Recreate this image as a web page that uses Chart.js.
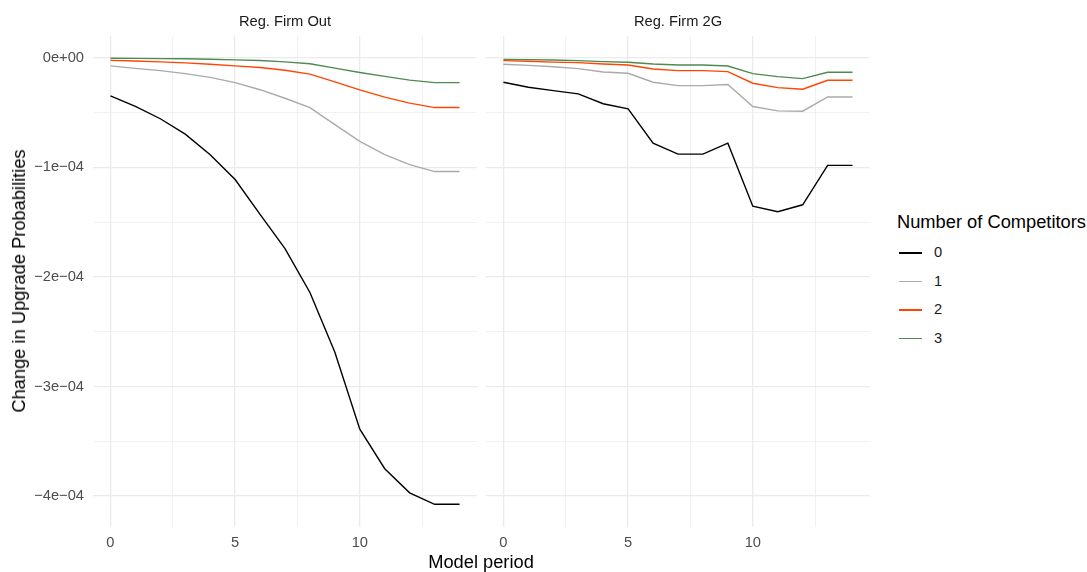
<!DOCTYPE html>
<html>
<head>
<meta charset="utf-8">
<script src="https://cdn.jsdelivr.net/npm/chart.js@4.4.1/dist/chart.umd.min.js"></script>
<style>
  body { margin: 0; background: #fff; font-family: 'Liberation Sans', Arial, sans-serif; }
  #wrap { position: relative; width: 1087px; height: 572px; overflow: hidden; }
  canvas { position: absolute; top: 0; }
  .txt { position: absolute; white-space: nowrap; }
  .strip { font-size: 14.7px; color: #1a1a1a; top: 13px; transform: translateX(-50%); }
  .leg-row { position: absolute; left: 899px; height: 20px; }
  .leg-row span.key { position: absolute; left: 0; top: 9px; width: 23px; height: 1.5px; }
  .leg-row span.lab { position: absolute; left: 35px; top: 1px; font-size: 14.7px; color: #1a1a1a; }
</style>
</head>
<body>
<div id="wrap">
  <canvas id="left" width="477" height="555" style="left:0px"></canvas>
  <canvas id="right" width="384" height="555" style="left:486px"></canvas>
  <div class="txt strip" style="left:285px">Reg. Firm Out</div>
  <div class="txt strip" style="left:678px">Reg. Firm 2G</div>
  <div class="txt" style="left:481px; top:551px; font-size:18.3px; transform:translateX(-50%)">Model period</div>
  <div class="txt" style="left:19px; top:281px; font-size:18.3px; transform:translate(-50%,-50%) rotate(-90deg)">Change in Upgrade Probabilities</div>
  <div class="txt" style="left:897px; top:211px; font-size:18.3px">Number of Competitors</div>
  <div id="legend"></div>
</div>
<script>
const periods = [0, 1, 2, 3, 4, 5, 6, 7, 8, 9, 10, 11, 12, 13, 14];
const competitors = ["0", "1", "2", "3"];
const lineColors = ["#000000", "#aaaaaa", "#ff4500", "#4f8a4f"];

// Reg. Firm Out
const firmOut0 = [-0.348e-4, -0.445e-4, -0.557e-4, -0.697e-4, -0.885e-4, -1.112e-4, -1.43e-4, -1.742e-4, -2.142e-4, -2.688e-4, -3.39e-4, -3.75e-4, -3.97e-4, -4.075e-4, -4.075e-4];
const firmOut1 = [-0.075e-4, -0.097e-4, -0.118e-4, -0.145e-4, -0.18e-4, -0.227e-4, -0.292e-4, -0.37e-4, -0.455e-4, -0.61e-4, -0.764e-4, -0.885e-4, -0.975e-4, -1.039e-4, -1.039e-4];
const firmOut2 = [-0.024e-4, -0.03e-4, -0.038e-4, -0.047e-4, -0.06e-4, -0.075e-4, -0.09e-4, -0.115e-4, -0.15e-4, -0.22e-4, -0.294e-4, -0.36e-4, -0.415e-4, -0.455e-4, -0.455e-4];
const firmOut3 = [-0.005e-4, -0.006e-4, -0.008e-4, -0.01e-4, -0.014e-4, -0.02e-4, -0.025e-4, -0.038e-4, -0.055e-4, -0.095e-4, -0.135e-4, -0.17e-4, -0.205e-4, -0.227e-4, -0.227e-4];

// Reg. Firm 2G
const firm2G0 = [-0.224e-4, -0.27e-4, -0.3e-4, -0.33e-4, -0.42e-4, -0.467e-4, -0.78e-4, -0.88e-4, -0.88e-4, -0.78e-4, -1.355e-4, -1.406e-4, -1.342e-4, -0.982e-4, -0.982e-4];
const firm2G1 = [-0.06e-4, -0.07e-4, -0.082e-4, -0.1e-4, -0.13e-4, -0.142e-4, -0.224e-4, -0.255e-4, -0.255e-4, -0.245e-4, -0.445e-4, -0.485e-4, -0.488e-4, -0.358e-4, -0.358e-4];
const firm2G2 = [-0.027e-4, -0.033e-4, -0.04e-4, -0.045e-4, -0.058e-4, -0.067e-4, -0.103e-4, -0.118e-4, -0.118e-4, -0.127e-4, -0.233e-4, -0.273e-4, -0.288e-4, -0.206e-4, -0.206e-4];
const firm2G3 = [-0.015e-4, -0.018e-4, -0.021e-4, -0.027e-4, -0.036e-4, -0.042e-4, -0.058e-4, -0.067e-4, -0.067e-4, -0.076e-4, -0.145e-4, -0.173e-4, -0.191e-4, -0.133e-4, -0.133e-4];

const xTicks = [0, 2.5, 5, 7.5, 10, 12.5];
const xTickLabels = ["0", "", "5", "", "10", ""];
const yTicks = [0, -0.5e-4, -1e-4, -1.5e-4, -2e-4, -2.5e-4, -3e-4, -3.5e-4, -4e-4];
const yTickLabels = ["0e+00", "", "\u22121e\u221204", "", "\u22122e\u221204", "", "\u22123e\u221204", "", "\u22124e\u221204"];

const font = "'Liberation Sans', Arial, sans-serif";

function makeChart(id, series, showY) {
    const ctx = document.getElementById(id).getContext('2d');
    return new Chart(ctx, {
        type: 'line',
        data: {
            datasets: series.map((vals, i) => ({
                label: competitors[i],
                data: periods.map((p, j) => ({ x: p, y: vals[j] })),
                borderColor: lineColors[i],
                borderWidth: 1.4,
                pointRadius: 0,
                tension: 0,
                fill: false,
                order: 3 - i
            }))
        },
        options: {
            responsive: false,
            animation: false,
            layout: { padding: { top: 36, left: 0, right: 0, bottom: 0 } },
            plugins: { legend: { display: false }, tooltip: { enabled: false } },
            scales: {
                x: {
                    type: 'linear',
                    min: -0.7,
                    max: 14.7,
                    afterBuildTicks: axis => { axis.ticks = xTicks.map(v => ({ value: v })); },
                    afterFit: axis => { axis.height = 28; },
                    border: { display: false },
                    grid: {
                        color: '#ebebeb',
                        drawTicks: false,
                        lineWidth: c => (c.index % 2 === 0 ? 1.3 : 0.7)
                    },
                    ticks: {
                        padding: 7,
                        maxRotation: 0,
                        autoSkip: false,
                        color: '#4d4d4d',
                        font: { family: font, size: 14.7 },
                        callback: (v, i) => xTickLabels[i]
                    }
                },
                y: {
                    min: -4.282e-4,
                    max: 0.198e-4,
                    afterBuildTicks: axis => { axis.ticks = yTicks.map(v => ({ value: v })); },
                    afterFit: axis => { axis.width = showY ? 93 : 0; },
                    border: { display: false },
                    grid: {
                        color: '#ebebeb',
                        drawTicks: false,
                        lineWidth: c => (c.index % 2 === 0 ? 1.3 : 0.7)
                    },
                    ticks: {
                        display: showY,
                        padding: 9,
                        autoSkip: false,
                        color: '#4d4d4d',
                        font: { family: font, size: 14.7 },
                        callback: (v, i) => yTickLabels[i]
                    }
                }
            }
        }
    });
}

makeChart('left', [firmOut0, firmOut1, firmOut2, firmOut3], true);
makeChart('right', [firm2G0, firm2G1, firm2G2, firm2G3], false);

const legend = document.getElementById('legend');
competitors.forEach((c, i) => {
    const row = document.createElement('div');
    row.className = 'leg-row';
    row.style.top = (243 + i * 28.5) + 'px';
    row.innerHTML = `<span class="key" style="background:${lineColors[i]}"></span><span class="lab">${c}</span>`;
    legend.appendChild(row);
});
</script>
</body>
</html>
